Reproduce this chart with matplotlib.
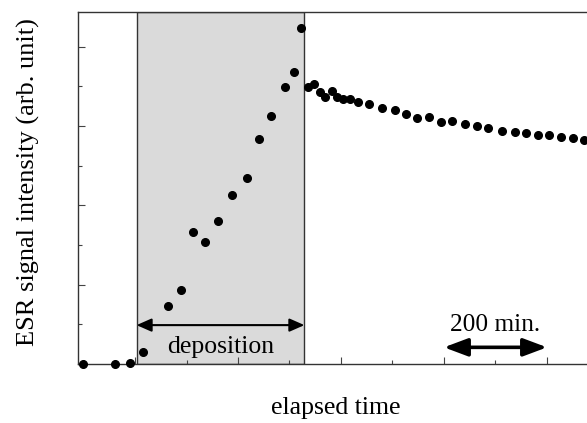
import matplotlib.pyplot as plt
from matplotlib.ticker import MultipleLocator, NullFormatter

plt.rcParams['font.family'] = ['Liberation Serif', 'DejaVu Serif']

# elapsed time (min), deposition starts at 0
time_min = [-101.0, -39.0, -9.9, 16.1, 63.8, 89.8, 113.0, 136.3, 160.8, 188.7,
            218.3, 241.6, 264.3, 290.7, 308.9, 323.1,
            335.3, 347.7, 358.5, 369.6, 381.8, 392.9, 403.9, 416.7, 433.6, 454.9,
            480.1, 504.0, 526.7, 548.0, 571.8, 594.5, 616.4, 640.5, 664.3, 685.7,
            712.8, 737.4, 758.8, 782.6, 804.5, 827.2, 849.9, 871.2]
# ESR signal (arb. unit)
signal = [0.0, 0.0, 0.02, 0.31, 1.46, 1.87, 3.33, 3.07, 3.61, 4.26,
          4.68, 5.68, 6.25, 6.98, 7.36, 8.47,
          6.98, 7.05, 6.86, 6.73, 6.87, 6.72, 6.69, 6.68, 6.61, 6.54,
          6.45, 6.39, 6.31, 6.19, 6.22, 6.11, 6.12, 6.06, 5.99, 5.95,
          5.87, 5.84, 5.82, 5.76, 5.78, 5.72, 5.70, 5.64]

dep_start, dep_end = 3, 329
scale_start, scale_end = 600, 800

fig = plt.figure(figsize=(5.87, 4.23), dpi=100)
ax = fig.add_axes([78 / 587, 59 / 423, 509 / 587, 352 / 423])

ax.axvspan(dep_start, dep_end, facecolor='#dadada', edgecolor='#333333', lw=1.0, zorder=1)
ax.plot(time_min, signal, 'o', color='black', ms=5.5, clip_on=False, zorder=3)

# arrows
ax.annotate('', xy=(dep_start, 0.98), xytext=(dep_end, 0.98),
            arrowprops=dict(arrowstyle='<|-|>,head_length=0.5,head_width=0.22', color='black', lw=1.5,
                            mutation_scale=18, shrinkA=0, shrinkB=0))
ax.text((dep_start + dep_end) / 2, 0.42, 'deposition', ha='center', va='center', fontsize=18.5)
ax.annotate('', xy=(scale_start, 0.42), xytext=(scale_end, 0.42),
            arrowprops=dict(arrowstyle='<|-|>,head_length=0.8,head_width=0.3', color='black', lw=2.6,
                            mutation_scale=18, shrinkA=0, shrinkB=0))
ax.text((scale_start + scale_end) / 2, 0.98, '200 min.', ha='center', va='center', fontsize=18.3)

ax.set_xlim(-110.7, 877.7)
ax.set_ylim(0, 8.87)
ax.spines['right'].set_visible(False)
for s in ['left', 'bottom', 'top']:
    ax.spines[s].set_color('#333333')
    ax.spines[s].set_linewidth(1.0)

ax.xaxis.set_major_locator(MultipleLocator(200))
ax.xaxis.set_minor_locator(MultipleLocator(100))
ax.yaxis.set_major_locator(MultipleLocator(2))
ax.yaxis.set_minor_locator(MultipleLocator(1))
ax.xaxis.set_major_formatter(NullFormatter())
ax.yaxis.set_major_formatter(NullFormatter())
ax.tick_params(which='both', direction='in', top=False, right=False, color='#444444', width=0.8)
ax.tick_params(which='major', length=5)
ax.tick_params(which='minor', length=3)

fig.text(336 / 587, (423 - 408) / 423, 'elapsed time', ha='center', va='center', fontsize=18.5)
fig.text(28 / 587, (423 - 182) / 423, 'ESR signal intensity (arb. unit)', ha='center', va='center',
         rotation=90, fontsize=19)

fig.savefig('out.png', dpi=100)
